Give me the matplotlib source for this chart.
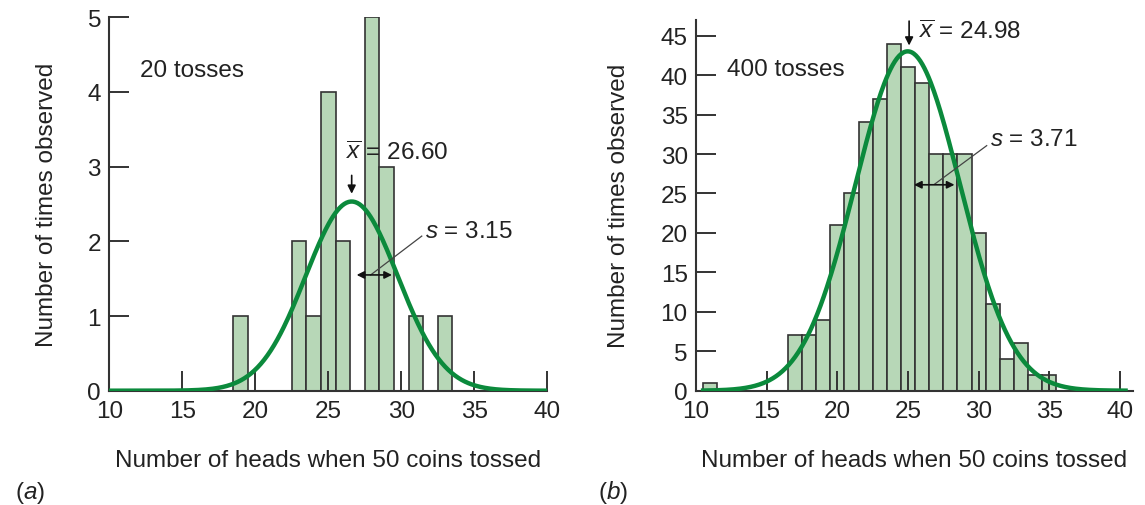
import numpy as np
import matplotlib
matplotlib.use('Agg')
import matplotlib.pyplot as plt

plt.rcParams['font.family'] = ['Liberation Sans', 'DejaVu Sans']
plt.rcParams['mathtext.fontset'] = 'custom'
plt.rcParams['mathtext.rm'] = 'Liberation Sans'
plt.rcParams['mathtext.it'] = 'Liberation Sans:italic'

# panel (a): 20 tosses
heads_a = [19, 23, 24, 25, 26, 28, 29, 31, 33]
counts_a = [1, 2, 1, 4, 2, 5, 3, 1, 1]
mean_a, sd_a = 26.60, 3.15

# panel (b): 400 tosses
heads_b = [11, 17, 18, 19, 20, 21, 22, 23, 24, 25, 26, 27, 28, 29, 30, 31, 32, 33, 34, 35]
counts_b = [1, 7, 7, 9, 21, 25, 34, 37, 44, 41, 39, 30, 30, 30, 20, 11, 4, 6, 2, 2]
mean_b, sd_b = 24.98, 3.71

xticks = [10, 15, 20, 25, 30, 35, 40]
yticks_a = [0, 1, 2, 3, 4, 5]
yticks_b = [0, 5, 10, 15, 20, 25, 30, 35, 40, 45]

bar_color = '#b7d7b7'
edge_color = '#333333'
curve_color = '#0b8a3c'
fs = 17.5


def gauss(x, m, s, n):
    return n / (s * np.sqrt(2 * np.pi)) * np.exp(-0.5 * ((x - m) / s) ** 2)


def style(ax, xmax, ymax, yticks):
    ax.set_xlim(10, xmax)
    ax.set_ylim(0, ymax)
    ax.set_xticks(xticks)
    ax.set_yticks(yticks)
    for side in ['top', 'right']:
        ax.spines[side].set_visible(False)
    for side in ['left', 'bottom']:
        ax.spines[side].set_color(edge_color)
        ax.spines[side].set_linewidth(1.5)
    ax.tick_params(direction='in', length=14.5, width=1.4, color=edge_color,
                   labelsize=fs, labelcolor='#222222')
    ax.tick_params(axis='x', pad=7)
    ax.tick_params(axis='y', pad=6)
    ax.set_xlabel('Number of heads when 50 coins tossed', fontsize=fs, color='#222222')
    ax.set_ylabel('Number of times observed', fontsize=fs, color='#222222')


fig = plt.figure(figsize=(11.45, 5.06), dpi=100)

# ---- (a)
ax1 = fig.add_axes([0.0955, 0.2259, 0.3825, 0.738])
ax1.bar(heads_a, counts_a, width=1.0, color=bar_color, edgecolor=edge_color, linewidth=1.2)
xs = np.linspace(10, 40, 400)
ax1.plot(xs, gauss(xs, mean_a, sd_a, sum(counts_a)), color=curve_color, lw=3.2, zorder=3)
style(ax1, 40, 5, yticks_a)
ax1.yaxis.set_label_coords(-0.117, 0.5)
ax1.xaxis.set_label_coords(0.5, -0.156)
ax1.text(12.1, 4.3, '20 tosses', fontsize=fs, va='center', color='#222222')
ax1.text(26.2, 3.19, r'$\overline{x}$ = %.2f' % mean_a, fontsize=fs, va='center', color='#222222', zorder=5)
ax1.annotate('', xy=(mean_a, 2.60), xytext=(mean_a, 2.92),
             arrowprops=dict(arrowstyle='-|>', color='#111111', lw=1.2, mutation_scale=12), zorder=5)
ax1.text(31.6, 2.14, r'$s$ = %.2f' % sd_a, fontsize=fs, va='center', color='#222222')
ax1.plot([31.4, 27.9], [2.07, 1.55], color='#444444', lw=0.9, zorder=5)
ax1.annotate('', xy=(mean_a + 0.15, 1.55), xytext=(mean_a + sd_a - 0.2, 1.55),
             arrowprops=dict(arrowstyle='<|-|>', color='#111111', lw=1.2, mutation_scale=11), zorder=5)

# ---- (b)
ax2 = fig.add_axes([0.6079, 0.2259, 0.3813, 0.7328])
ax2.bar(heads_b, counts_b, width=1.0, color=bar_color, edgecolor=edge_color, linewidth=1.2)
xs = np.linspace(10.5, 40.4, 400)
ax2.plot(xs, gauss(xs, mean_b, sd_b, sum(counts_b)), color=curve_color, lw=3.2, zorder=3)
style(ax2, 40.9, 47, yticks_b)
ax2.yaxis.set_label_coords(-0.151, 0.5)
ax2.xaxis.set_label_coords(0.5, -0.157)
ax2.text(12.2, 40.8, '400 tosses', fontsize=fs, va='center', color='#222222')
ax2.text(25.8, 45.5, r'$\overline{x}$ = %.2f' % mean_b, fontsize=fs, va='center', color='#222222')
ax2.annotate('', xy=(mean_b + 0.1, 43.4), xytext=(mean_b + 0.1, 47.2),
             arrowprops=dict(arrowstyle='-|>', color='#111111', lw=1.2, mutation_scale=12),
             annotation_clip=False, zorder=5)
ax2.text(30.8, 31.9, r'$s$ = %.2f' % sd_b, fontsize=fs, va='center', color='#222222')
ax2.plot([30.57, 26.9], [31.06, 26.2], color='#444444', lw=0.9, zorder=5)
ax2.annotate('', xy=(mean_b + 0.25, 26.1), xytext=(mean_b + sd_b - 0.2, 26.1),
             arrowprops=dict(arrowstyle='<|-|>', color='#111111', lw=1.2, mutation_scale=11), zorder=5)

fig.text(0.013, 0.026, r'($a$)', fontsize=fs, va='center', color='#222222')
fig.text(0.522, 0.026, r'($b$)', fontsize=fs, va='center', color='#222222')

fig.savefig('out.png', dpi=100)
